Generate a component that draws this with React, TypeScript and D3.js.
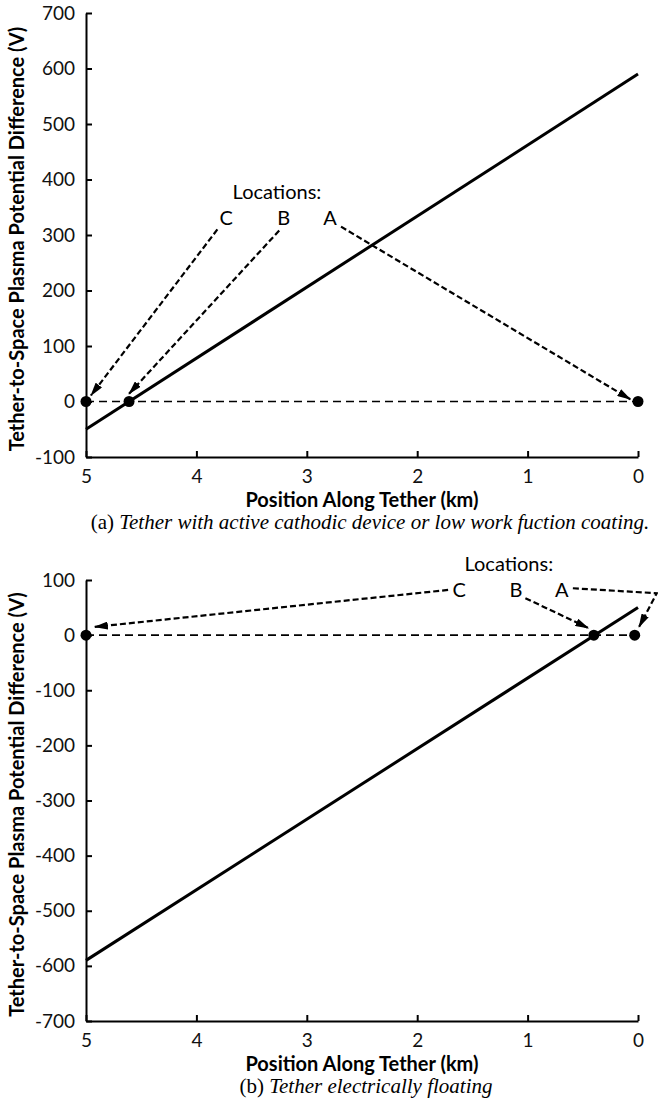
import React, { useEffect, useRef } from "react";
import * as d3 from "d3";

const W = 658;
const H = 1099;

// shared x axis (km along tether, reversed)
const xTicks = [5, 4, 3, 2, 1, 0];

// panel (a): active cathodic device
const yTicksA = [-100, 0, 100, 200, 300, 400, 500, 600, 700];
const lineA = [
  { pos: 5, v: -50 },
  { pos: 0, v: 590 },
];
const pointsA = [
  { name: "C", pos: 5, v: 0 },
  { name: "B", pos: 4.61, v: 0 },
  { name: "A", pos: 0, v: 0 },
];
const labelsA = [
  { text: "Locations:", pos: 3.27, v: 380 },
  { text: "C", pos: 3.73, v: 333 },
  { text: "B", pos: 3.21, v: 333 },
  { text: "A", pos: 2.79, v: 333 },
];
const arrowsA = [
  [{ pos: 3.81, v: 310 }, { pos: 4.955, v: 11 }],
  [{ pos: 3.25, v: 308 }, { pos: 4.61, v: 14 }],
  [{ pos: 2.69, v: 315 }, { pos: 0.07, v: 4 }],
];

// panel (b): electrically floating
const yTicksB = [-700, -600, -500, -400, -300, -200, -100, 0, 100];
const lineB = [
  { pos: 5, v: -590 },
  { pos: 0, v: 50 },
];
const pointsB = [
  { name: "C", pos: 5, v: 0 },
  { name: "B", pos: 0.4, v: 0 },
  { name: "A", pos: 0.03, v: 0 },
];
const labelsB = [
  { text: "Locations:", pos: 1.17, v: 131 },
  { text: "C", pos: 1.62, v: 83 },
  { text: "B", pos: 1.105, v: 83 },
  { text: "A", pos: 0.69, v: 83 },
];
const arrowsB = [
  [{ pos: 1.72, v: 82 }, { pos: 4.92, v: 15 }],
  [{ pos: 1.02, v: 67 }, { pos: 0.45, v: 13 }],
  [{ pos: 0.59, v: 85 }, { pos: -0.17, v: 76 }, { pos: -0.01, v: 15 }],
];

const SANS = "Lato, 'Open Sans', sans-serif";
const SERIF = "'Liberation Serif', 'DejaVu Serif', serif";

const drawPanel = (svg, p) => {
  const x = d3.scaleLinear().domain([5, 0]).range([86, 638]);
  const y = d3.scaleLinear().domain(p.yDomain).range(p.yRange);
  const g = svg.append("g");

  // zero reference line
  g.append("line")
    .attr("x1", x(5))
    .attr("x2", x(0))
    .attr("y1", y(0))
    .attr("y2", y(0))
    .attr("stroke", "#000")
    .attr("stroke-width", 1.6)
    .attr("stroke-dasharray", "8,5");

  // axes (ticks point inward), plain hyphen for negatives
  const fmt = (d) => String(d);
  const yAxis = d3.axisLeft(y).tickValues(p.yTicks).tickFormat(fmt).tickSize(-6).tickPadding(11).tickSizeOuter(0);
  const ya = g.append("g").attr("transform", `translate(${x(5)},0)`).call(yAxis);
  const xAxis = d3.axisBottom(x).tickValues(xTicks).tickFormat(fmt).tickSize(-6).tickPadding(13).tickSizeOuter(0);
  const xa = g.append("g").attr("transform", `translate(0,${y(p.yDomain[0])})`).call(xAxis);
  [ya, xa].forEach((a) => {
    a.select(".domain").attr("stroke", "#000").attr("stroke-width", 2);
    a.selectAll(".tick line").attr("stroke", "#000").attr("stroke-width", 2);
    a.selectAll(".tick text")
      .attr("fill", "#111")
      .style("font-family", SANS)
      .style("font-size", "19px");
  });

  // data line
  g.append("path")
    .datum(p.line)
    .attr("fill", "none")
    .attr("stroke", "#000")
    .attr("stroke-width", 3)
    .attr("d", d3.line().x((d) => x(d.pos)).y((d) => y(d.v)));

  // annotation arrows
  g.selectAll(".arrow")
    .data(p.arrows)
    .join("path")
    .attr("class", "arrow")
    .attr("fill", "none")
    .attr("stroke", "#000")
    .attr("stroke-width", 2.2)
    .attr("stroke-dasharray", "6,3")
    .attr("marker-end", "url(#head)")
    .attr("d", d3.line().x((d) => x(d.pos)).y((d) => y(d.v)));

  // location points
  g.selectAll(".pt")
    .data(p.points)
    .join("circle")
    .attr("class", "pt")
    .attr("cx", (d) => x(d.pos))
    .attr("cy", (d) => y(d.v))
    .attr("r", 5.5)
    .attr("fill", "#000");

  g.selectAll(".lbl")
    .data(p.labels)
    .join("text")
    .attr("class", "lbl")
    .attr("x", (d) => x(d.pos))
    .attr("y", (d) => y(d.v))
    .attr("text-anchor", "middle")
    .attr("dominant-baseline", "central")
    .style("font-family", SANS)
    .style("font-size", "20px")
    .text((d) => d.text);

  // axis titles
  const yMid = (p.yRange[0] + p.yRange[1]) / 2 + 4;
  g.append("text")
    .attr("transform", `translate(24,${yMid}) rotate(-90)`)
    .attr("text-anchor", "middle")
    .style("font-family", SANS)
    .style("font-weight", "bold")
    .style("font-size", "20px")
    .text("Tether-to-Space Plasma Potential Difference (V)");

  g.append("text")
    .attr("x", 362)
    .attr("y", p.yRange[0] + 50)
    .attr("text-anchor", "middle")
    .style("font-family", SANS)
    .style("font-weight", "bold")
    .style("font-size", "20px")
    .text("Position Along Tether (km)");

  const cap = g.append("text")
    .attr("x", p.capX)
    .attr("y", p.yRange[0] + 72)
    .attr("text-anchor", "middle")
    .style("font-family", SERIF)
    .style("font-size", "21px");
  cap.append("tspan").text(p.capTag + " ");
  cap.append("tspan").style("font-style", "italic").text(p.caption);
};

const App = () => {
  const svgRef = useRef();

  useEffect(() => {
    const svg = d3.select(svgRef.current);
    svg.selectAll("*").remove();

    svg.append("defs")
      .append("marker")
      .attr("id", "head")
      .attr("viewBox", "0 0 14 8")
      .attr("refX", 13)
      .attr("refY", 4)
      .attr("markerUnits", "userSpaceOnUse")
      .attr("markerWidth", 14)
      .attr("markerHeight", 8)
      .attr("orient", "auto")
      .append("path")
      .attr("d", "M0,0 L14,4 L0,8 Z")
      .attr("fill", "#000");

    drawPanel(svg, {
      yDomain: [-100, 700],
      yRange: [457, 13],
      yTicks: yTicksA,
      line: lineA,
      points: pointsA,
      labels: labelsA,
      arrows: arrowsA,
      capX: 370,
      capTag: "(a)",
      caption: "Tether with active cathodic device or low work fuction coating.",
    });

    drawPanel(svg, {
      yDomain: [-700, 100],
      yRange: [1021, 580],
      yTicks: yTicksB,
      line: lineB,
      points: pointsB,
      labels: labelsB,
      arrows: arrowsB,
      capX: 366,
      capTag: "(b)",
      caption: "Tether electrically floating",
    });
  }, []);

  return (
    <svg
      ref={svgRef}
      width={W}
      height={H}
      style={{ position: "absolute", left: 0, top: 0, background: "#fff" }}
    />
  );
};

export default App;
